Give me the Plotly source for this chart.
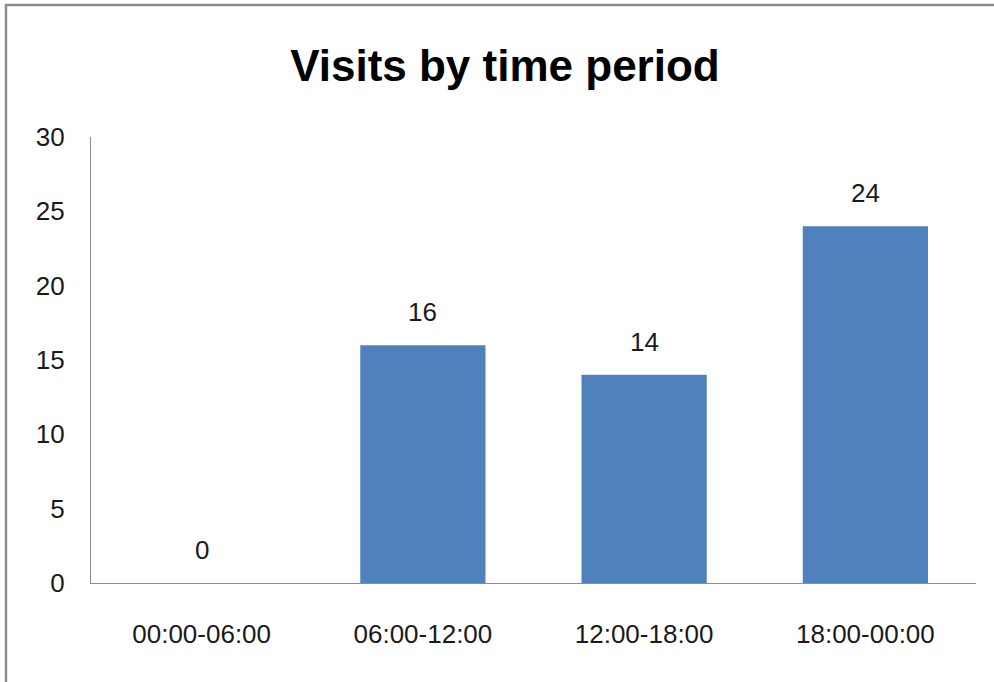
import plotly.graph_objects as go

categories = ["00:00-06:00", "06:00-12:00", "12:00-18:00", "18:00-00:00"]
visits = [0, 16, 14, 24]
y_ticks = [0, 5, 10, 15, 20, 25, 30]
title_text = "Visits by time period"

FONT = "Liberation Sans"
TXT = "#1a1a1a"

fig = go.Figure()
fig.add_trace(go.Bar(
    x=categories, y=visits,
    marker=dict(color="#4F81BD", line=dict(width=0)),
    hoverinfo="skip",
))

annotations = [
    dict(x=c, y=v, text=str(v), showarrow=False, yshift=33,
         font=dict(family=FONT, size=26, color=TXT), xref="x", yref="y")
    for c, v in zip(categories, visits)
]

fig.update_layout(
    width=994, height=682,
    margin=dict(l=91, r=18, t=137, b=99),
    paper_bgcolor="white", plot_bgcolor="white",
    showlegend=False,
    bargap=0.434,
    title=dict(text=f"<b>{title_text}</b>", x=0.508, xanchor="center",
               y=1 - 66 / 682, yref="container", yanchor="middle",
               font=dict(family=FONT, size=44, color="black")),
    annotations=annotations,
    shapes=[dict(type="rect", xref="paper", yref="paper",
                 x0=(6 - 91) / 885, x1=(1060 - 91) / 885,
                 y0=(583 - 760) / 446, y1=(583 - 5) / 446,
                 line=dict(color="#8c8c8c", width=2.5), fillcolor="rgba(0,0,0,0)",
                 layer="above")],
)
fig.update_xaxes(
    showline=True, linecolor="#8c8c8c", linewidth=1.2,
    showgrid=False, ticks="", ticklabelstandoff=28,
    tickfont=dict(family=FONT, size=26, color=TXT),
    fixedrange=True,
)
fig.update_yaxes(
    range=[0, 30], tickvals=y_ticks, showline=True, linecolor="#8c8c8c",
    linewidth=1.2, showgrid=False, zeroline=False, ticks="",
    ticklabelstandoff=20,
    tickfont=dict(family=FONT, size=26, color=TXT),
    fixedrange=True,
)

fig.write_html("out.html", config={"displayModeBar": False},
               post_script="document.body.style.margin='0px';")
